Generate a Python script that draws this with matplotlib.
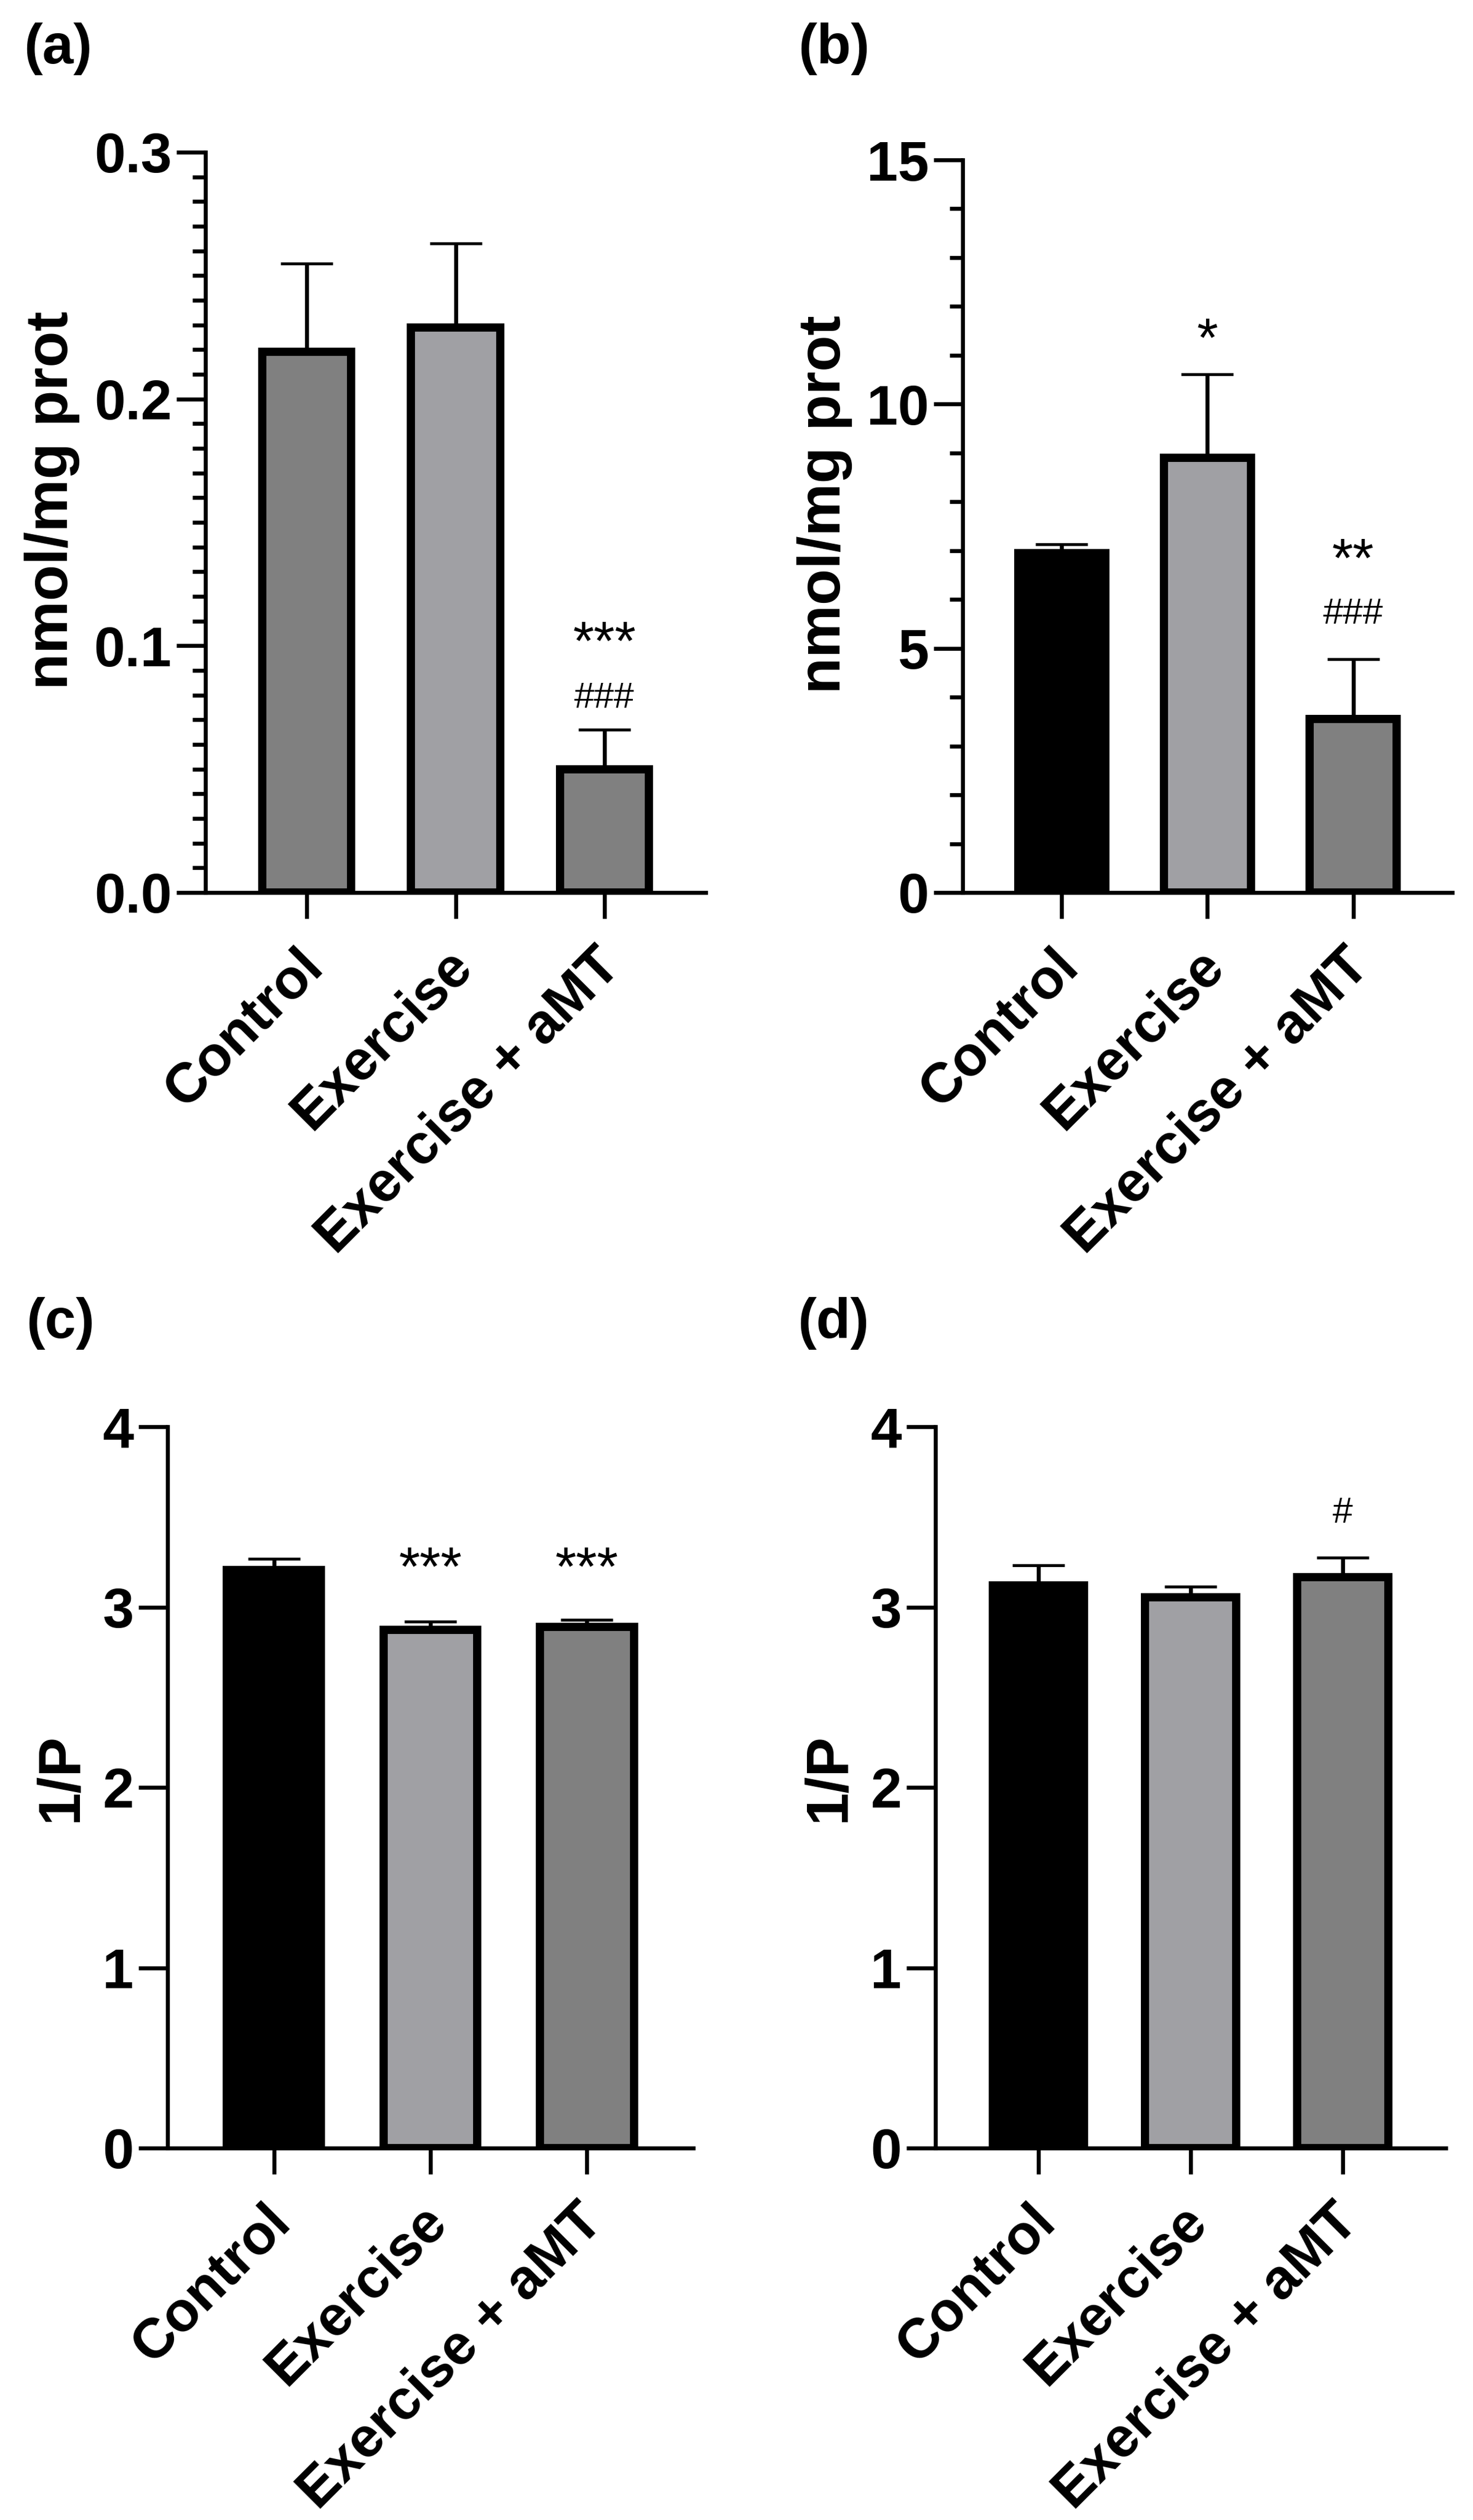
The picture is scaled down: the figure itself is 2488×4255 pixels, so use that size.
import matplotlib
matplotlib.use("Agg")
import matplotlib.pyplot as plt
import matplotlib.transforms as mtransforms
import numpy as np
from matplotlib.ticker import MultipleLocator, FormatStrFormatter

plt.rcParams["font.family"] = ["Liberation Sans", "DejaVu Sans"]

# data (mean and upper SEM)
groups = ["Control", "Exercise", "Exercise + aMT"]

a_mean = [0.219, 0.229, 0.050]
a_sem = [0.036, 0.034, 0.016]
b_mean = [6.95, 8.90, 3.55]
b_sem = [0.18, 1.71, 1.23]
c_mean = [3.205, 2.875, 2.89]
c_sem = [0.062, 0.045, 0.038]
d_mean = [3.12, 3.055, 3.165]
d_sem = [0.11, 0.057, 0.108]

a_star = ["", "", "***"]
a_hash = ["", "", "###"]
b_star = ["", "*", "**"]
b_hash = ["", "", "###"]
c_star = ["", "***", "***"]
c_hash = ["", "", ""]
d_star = ["", "", ""]
d_hash = ["", "", "#"]

cols_a = ["#808080", "#a0a0a4", "#808080"]
cols_bcd = ["#000000", "#a0a0a4", "#808080"]

W, H = 2488, 4255
fig = plt.figure(figsize=(W / 100, H / 100), dpi=100)

def make_ax(l, r, t, b):
    return fig.add_axes([l / W, 1 - b / H, (r - l) / W, (b - t) / H])

def draw(ax, mean, sem, cols, ylab, ylim, major, minor, fmt, star, hash_, star_y, hash_y, lab_y):
    x = np.arange(len(groups))
    ax.errorbar(x, mean, yerr=[np.zeros(len(sem)), sem], fmt="none", ecolor="black",
                elinewidth=4.8, capsize=32, capthick=3.5, zorder=1)
    ax.bar(x, mean, width=0.6, color=cols, edgecolor="black", linewidth=10, zorder=2)
    ax.set_xlim(-0.68, 2.68)
    ax.set_ylim(*ylim)
    ax.yaxis.set_major_locator(MultipleLocator(major))
    if minor:
        ax.yaxis.set_minor_locator(MultipleLocator(minor))
    ax.yaxis.set_major_formatter(FormatStrFormatter(fmt))
    for s in ["top", "right"]:
        ax.spines[s].set_visible(False)
    for s in ["left", "bottom"]:
        ax.spines[s].set_linewidth(4.8)
    ax.tick_params(axis="y", which="major", length=35, width=4.8, pad=6, labelsize=68)
    ax.tick_params(axis="y", which="minor", length=16, width=4.8)
    ax.tick_params(axis="x", length=32, width=4.8, pad=48)
    for lab in ax.get_yticklabels():
        lab.set_fontweight("bold")
    ax.set_xticks(x)
    labs = ax.set_xticklabels(groups, rotation=45, ha="right", va="center", rotation_mode="anchor",
                              fontsize=68, fontweight="bold")
    shift = mtransforms.ScaledTranslation(10 / 72, 0, fig.dpi_scale_trans)
    for lab in labs:
        lab.set_transform(lab.get_transform() + shift)
    ax.set_ylabel(ylab, fontsize=72, fontweight="bold", labelpad=17)
    ax.yaxis.label.set_y(lab_y)
    for i in range(len(groups)):
        if star[i]:
            ax.annotate(star[i], (x[i], star_y[i]), xytext=(0, -0.57 * 66), textcoords="offset points",
                        ha="center", va="baseline", fontsize=66)
        if hash_[i]:
            ax.annotate(hash_[i], (x[i], hash_y[i]), xytext=(0, -0.35 * 44), textcoords="offset points",
                        ha="center", va="baseline", fontsize=44)

ax_a = make_ax(347, 1192, 257, 1507)
draw(ax_a, a_mean, a_sem, cols_a, "nmol/mg prot", (0, 0.3), 0.1, 0.01, "%.1f",
     a_star, a_hash, [0, 0, 0.107], [0, 0, 0.080], 0.53)

ax_b = make_ax(1626, 2453, 270, 1507)
draw(ax_b, b_mean, b_sem, cols_bcd, "nmol/mg prot", (0, 15), 5, 1, "%d",
     b_star, b_hash, [0, 11.62, 7.11], [0, 0, 5.76], 0.53)

ax_c = make_ax(283, 1171, 2409, 3627)
draw(ax_c, c_mean, c_sem, cols_bcd, "1/P", (0, 4), 1, None, "%d",
     c_star, c_hash, [0, 3.294, 3.294], [0, 0, 0], 0.514)

ax_d = make_ax(1580, 2442, 2409, 3627)
draw(ax_d, d_mean, d_sem, cols_bcd, "1/P", (0, 4), 1, None, "%d",
     d_star, d_hash, [0, 0, 0], [0, 0, 3.537], 0.514)

for lab, px, py in [("(a)", 40, 38), ("(b)", 1348, 38), ("(c)", 44, 2190), ("(d)", 1347, 2190)]:
    fig.text(px / W, 1 - py / H, lab, fontsize=68, fontweight="bold", ha="left", va="top")

fig.savefig("out.png", dpi=100, facecolor="white")
